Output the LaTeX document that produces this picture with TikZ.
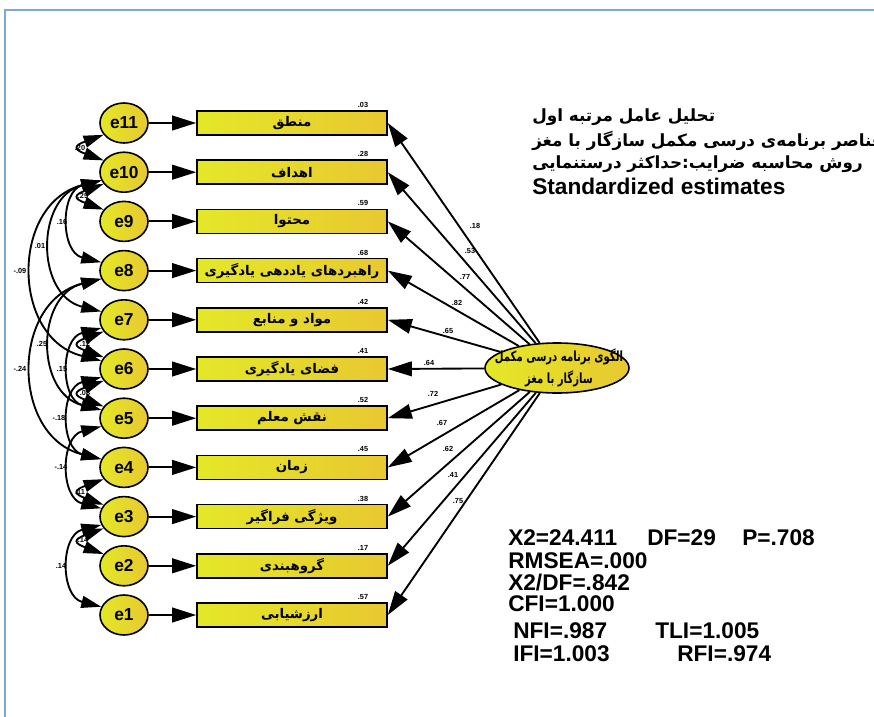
\documentclass[tikz,border=0pt]{standalone}
\usepackage{graphicx}
\usepackage{fontspec}
\setmainfont{Liberation Sans}
\newfontfamily\fa[Script=Arabic]{DejaVu Sans}
\TeXXeTstate=1
\usetikzlibrary{arrows.meta,shapes.geometric}
\definecolor{frameblue}{RGB}{125,167,217}
\definecolor{yl}{RGB}{228,232,40}
\definecolor{yr}{RGB}{232,200,48}
\tikzset{
  err/.style={ellipse, draw=black, line width=1.2pt, minimum width=36pt, minimum height=30pt, inner sep=0pt,
    left color=yl, right color=yr, font=\fontsize{13}{15}\selectfont\bfseries},
  obs/.style={rectangle, draw=black, line width=1.2pt, minimum width=142.5pt, minimum height=18pt, inner sep=0pt,
    left color=yl, right color=yr, font=\fa\fontsize{10}{12}\selectfont\bfseries},
  arr/.style={line width=1.4pt, -{Triangle[length=18pt,width=11pt]}},
  cov/.style={line width=1.4pt, {Triangle[length=15pt,width=9pt]}-{Triangle[length=15pt,width=9pt]}},
  lbl/.style={font=\fontsize{5.5}{6}\selectfont\bfseries, inner sep=0pt},
  fit/.style={font=\fontsize{17}{20}\selectfont\bfseries, anchor=west, inner sep=0pt},
  ttl/.style={font=\fa\fontsize{12.6}{16}\selectfont\bfseries, anchor=west, inner sep=0pt},
}
\begin{document}
\begin{tikzpicture}[x=0.75pt,y=-0.75pt]
\useasboundingbox (0,0) rectangle (874,717);
\fill[white] (0,0) rectangle (874,717);
\draw[frameblue, line width=1.5pt] (5,717) -- (5,10) -- (874,10);

% error nodes
\node[err] (e11) at (124,123) {e11};
\node[err] (e10) at (124,172.2) {e10};
\node[err] (e9) at (124,221.4) {e9};
\node[err] (e8) at (124,270.6) {e8};
\node[err] (e7) at (124,319.8) {e7};
\node[err] (e6) at (124,369) {e6};
\node[err] (e5) at (124,418.2) {e5};
\node[err] (e4) at (124,467.4) {e4};
\node[err] (e3) at (124,516.6) {e3};
\node[err] (e2) at (124,565.8) {e2};
\node[err] (e1) at (124,615) {e1};

% observed boxes
\node[obs] (b11) at (292,123) {\beginR منطق\endR};
\node[obs] (b10) at (292,172.2) {\beginR اهداف\endR};
\node[obs] (b9) at (292,221.4) {\beginR محتوا\endR};
\node[obs] (b8) at (292,270.6) {\beginR راهبردهای یاددهی یادگیری\endR};
\node[obs] (b7) at (292,319.8) {\beginR مواد و منابع\endR};
\node[obs] (b6) at (292,369) {\beginR فضای یادگیری\endR};
\node[obs] (b5) at (292,418.2) {\beginR نقش معلم\endR};
\node[obs] (b4) at (292,467.4) {\beginR زمان\endR};
\node[obs] (b3) at (292,516.6) {\beginR ویژگی فراگیر\endR};
\node[obs] (b2) at (292,565.8) {\beginR گروهبندی\endR};
\node[obs] (b1) at (292,615) {\beginR ارزشیابی\endR};

% R2 labels
\node[lbl] (r11) at (363,105) {.03};
\node[lbl] (r10) at (363,154.2) {.28};
\node[lbl] (r9) at (363,203.4) {.59};
\node[lbl] (r8) at (363,252.6) {.68};
\node[lbl] (r7) at (363,301.8) {.42};
\node[lbl] (r6) at (363,351) {.41};
\node[lbl] (r5) at (363,400.2) {.52};
\node[lbl] (r4) at (363,449.4) {.45};
\node[lbl] (r3) at (363,498.6) {.38};
\node[lbl] (r2) at (363,547.8) {.17};
\node[lbl] (r1) at (363,597) {.57};

% error arrows
\foreach \i in {1,...,11} { \draw[arr] (e\i) -- (b\i); }

% factor
\node[ellipse, draw=black, line width=1.2pt, minimum width=108pt, minimum height=37.5pt, inner sep=0pt,
  left color=yl, right color=yr] (F) at (557,368) {};
\node[font=\fa\fontsize{10.5}{16}\selectfont\bfseries, align=center, inner sep=0pt] (Ft) at (559,368)
  {\scalebox{0.72}[1]{\beginR الگوی برنامه درسی مکمل\endR}\\ \scalebox{0.72}[1]{\beginR سازگار با مغز\endR}};

% loadings
\foreach \i in {1,...,11} { \draw[arr] (F) -- (b\i.east); }
\node[lbl] (l11) at (475,226) {.18};
\node[lbl] (l10) at (470,251) {.53};
\node[lbl] (l9) at (465,277) {.77};
\node[lbl] (l8) at (457,303) {.82};
\node[lbl] (l7) at (448,331) {.65};
\node[lbl] (l6) at (429,363) {.64};
\node[lbl] (l5) at (433,394) {.72};
\node[lbl] (l4) at (442,423) {.67};
\node[lbl] (l3) at (448,449) {.62};
\node[lbl] (l2) at (453,475) {.41};
\node[lbl] (l1) at (458,501) {.75};

% covariances
\draw[cov] (e11.210) to[out=200,in=160,looseness=3.2] (e10.150);
\draw[cov] (e10.210) to[out=200,in=160,looseness=3.2] (e9.150);
\draw[cov] (e10.200) to[out=194,in=166,looseness=1.33] (e8.160);
\draw[cov] (e10.200) to[out=194,in=166,looseness=1.33] (e7.160);
\draw[cov] (e10.200) to[out=194,in=166,looseness=1.33] (e6.160);
\draw[cov] (e8.200) to[out=194,in=166,looseness=1.33] (e5.160);
\draw[cov] (e8.200) to[out=194,in=166,looseness=1.33] (e4.160);
\draw[cov] (e7.210) to[out=200,in=160,looseness=3.2] (e6.150);
\draw[cov] (e7.200) to[out=194,in=166,looseness=1.33] (e5.160);
\draw[cov] (e6.210) to[out=200,in=160,looseness=3.2] (e5.150);
\draw[cov] (e6.200) to[out=194,in=166,looseness=1.33] (e4.160);
\draw[cov] (e5.200) to[out=194,in=166,looseness=1.33] (e3.160);
\draw[cov] (e4.210) to[out=200,in=160,looseness=3.2] (e3.150);
\draw[cov] (e3.210) to[out=200,in=160,looseness=3.2] (e2.150);
\draw[cov] (e3.200) to[out=194,in=166,looseness=1.33] (e1.160);

\node[lbl] (c1) at (80,148) {.20};
\node[lbl] (c2) at (83,196) {.25};
\node[lbl] (c3) at (62,222) {.16};
\node[lbl] (c4) at (40,246) {.01};
\node[lbl] (c5) at (20,271) {-.09};
\node[lbl] (c6) at (85,344) {.12};
\node[lbl] (c7) at (42,344) {.25};
\node[lbl] (c8) at (20,369) {-.24};
\node[lbl] (c9) at (62,369) {.15};
\node[lbl] (c10) at (85,393) {.08};
\node[lbl] (c11) at (59,418) {-.18};
\node[lbl] (c12) at (61,467) {-.14};
\node[lbl] (c13) at (80,492) {.11};
\node[lbl] (c14) at (83,540) {.14};
\node[lbl] (c15) at (61,566) {.14};

% titles
\node[ttl] (t1) at (532,117) {\beginR تحلیل عامل مرتبه اول\endR};
\node[ttl] (t2) at (532,141) {\beginR عناصر برنامه‌ی درسی مکمل سازگار با مغز\endR};
\node[ttl] (t3) at (532,164) {\beginR روش محاسبه ضرایب:حداکثر درستنمایی\endR};
\node[fit] (t4) at (532,186) {Standardized estimates};

% fit statistics
\node[fit] (s1) at (508,538) {X2=24.411};
\node[fit] (s2) at (647,538) {DF=29};
\node[fit] (s3) at (742,538) {P=.708};
\node[fit] (s4) at (508,561) {RMSEA=.000};
\node[fit] (s5) at (508,583) {X2/DF=.842};
\node[fit] (s6) at (508,604) {CFI=1.000};
\node[fit] (s7) at (513,631) {NFI=.987};
\node[fit] (s8) at (655,631) {TLI=1.005};
\node[fit] (s9) at (513,654) {IFI=1.003};
\node[fit] (s10) at (677,654) {RFI=.974};
\end{tikzpicture}
\end{document}
